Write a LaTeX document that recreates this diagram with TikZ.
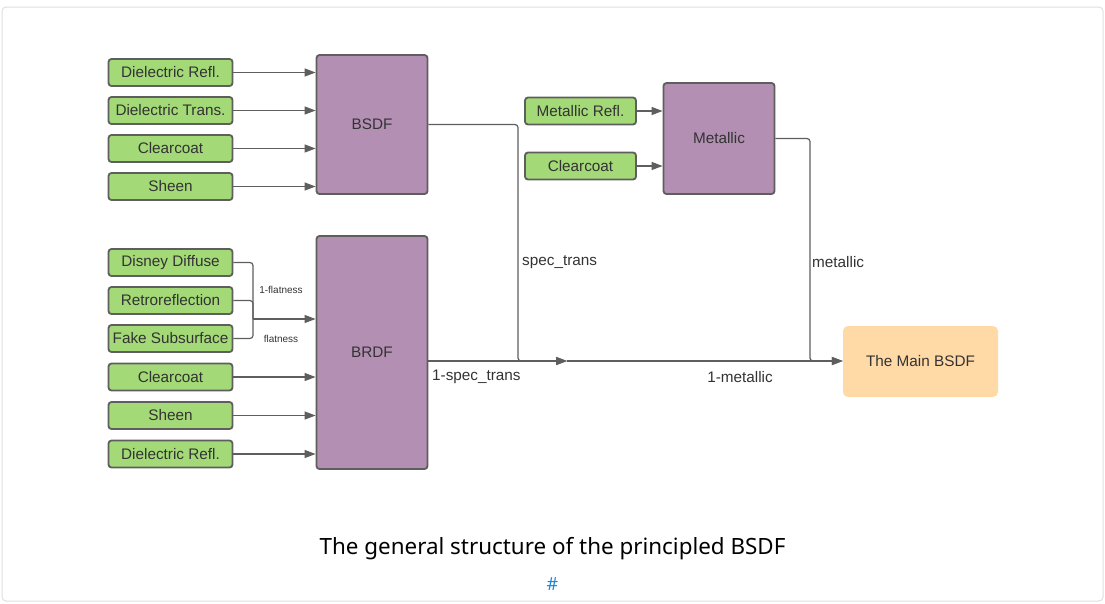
\documentclass[tikz,border=0pt]{standalone}
\usepackage{fontspec}
\setmainfont{Liberation Sans}
\newfontfamily\capfont{Noto Sans}
\usetikzlibrary{arrows.meta, positioning}
\definecolor{leaf}{HTML}{A3D977}
\definecolor{plum}{HTML}{B28FB3}
\definecolor{peach}{HTML}{FFD9A6}
\definecolor{ink}{HTML}{333333}
\definecolor{wire}{HTML}{5E5E5E}
\definecolor{link}{HTML}{1E88D8}

\begin{document}
\begin{tikzpicture}[x=1pt, y=-1pt,
      every node/.style={font=\fontsize{15.3}{18}\selectfont, text=ink},
      inbox/.style={draw=wire, fill=leaf, line width=1.8pt, rounded corners=3pt,
                    minimum width=124pt, minimum height=27pt, inner sep=0pt},
      opbox/.style={draw=wire, fill=plum, line width=1.8pt, rounded corners=3pt,
                    minimum width=111pt, inner sep=0pt},
      mainbox/.style={fill=peach, rounded corners=5pt, minimum width=155pt,
                    minimum height=71pt, inner sep=0pt},
      ln/.style={draw=wire, line width=1.2pt, rounded corners=3pt},
      ar/.style={ln, -{Triangle[length=11pt, width=8pt]}},
      tag/.style={inner sep=0pt, anchor=west},
      small/.style={font=\fontsize{10}{12}\selectfont, inner sep=0pt}]
    % frame and page size
    \useasboundingbox (0,0) rectangle (1105,603);
    \draw[gray!25, line width=1pt, rounded corners=4pt] (2,7) rectangle (1103,601);
    % operators
    \node[opbox, minimum height=139pt] (bsdf) at (372,124.5) {BSDF};
    \node[opbox, minimum height=233pt] (brdf) at (372,352.5) {BRDF};
    \node[opbox, minimum height=111pt] (metal) at (719,138.5) {Metallic};
    \node[mainbox] (main) at (920.5,361.5) {The Main BSDF};
    % inputs of the BSDF
    \foreach \n/\t/\y in {a1/Dielectric Refl./72.5, a2/Dielectric Trans./110.5,
                          a3/Clearcoat/148.5, a4/Sheen/186.5} {
      \node[inbox] (\n) at (170.5,\y) {\t};
      \draw[ar] (\n) -- (\n -| bsdf.west);
    }
    % inputs of the BRDF
    \foreach \n/\t/\y in {b1/Disney Diffuse/262.5, b2/Retroreflection/300.5,
                          b3/Fake Subsurface/338.5, b4/Clearcoat/377,
                          b5/Sheen/415.5, b6/Dielectric Refl./454}
      \node[inbox] (\n) at (170.5,\y) {\t};
    \foreach \n in {b4, b5, b6}
      \draw[ar] (\n) -- (\n -| brdf.west);
    \coordinate (fj) at (253,319);
    \foreach \n in {b1, b2, b3}
      \draw[ln] (\n.east) -| (fj);
    \draw[ar] (fj) -- (fj -| brdf.west);
    \node[small] (fl1) at (281,290) {1-flatness};
    \node[small] (fl2) at (281,339) {flatness};
    % inputs of the metallic part
    \node[inbox, minimum width=111pt] (m1) at (580.5,111) {Metallic Refl.};
    \node[inbox, minimum width=111pt] (m2) at (580.5,166) {Clearcoat};
    \draw[ar] (m1) -- (m1 -| metal.west);
    \draw[ar] (m2) -- (m2 -| metal.west);
    % mixing
    \coordinate (mj) at (567,361);
    \draw[ar] (brdf.east |- mj) -- (mj);
    \draw[ar] (bsdf.east) -- (518,124.5) -- (518,361) -- (mj);
    \draw[ar] (mj) -- (mj -| main.west);
    \draw[ar] (metal.east) -- (810,138.5) -- (810,361) -- (mj -| main.west);
    \node[tag] (l1) at (522,262) {spec\_trans};
    \node[tag] (l2) at (432,377) {1-spec\_trans};
    \node[tag] (l3) at (812,262) {metallic};
    \node[inner sep=0pt] (l4) at (740,377) {1-metallic};
    % caption
    \node[font=\capfont\fontsize{22.4}{26}\selectfont, text=black] (cap) at (552.5,549)
      {The general structure of the principled BSDF};
    \node[font=\capfont\fontsize{18}{21}\selectfont, text=link] (hash) at (552.5,584) {\#};
  \end{tikzpicture}
\end{document}
